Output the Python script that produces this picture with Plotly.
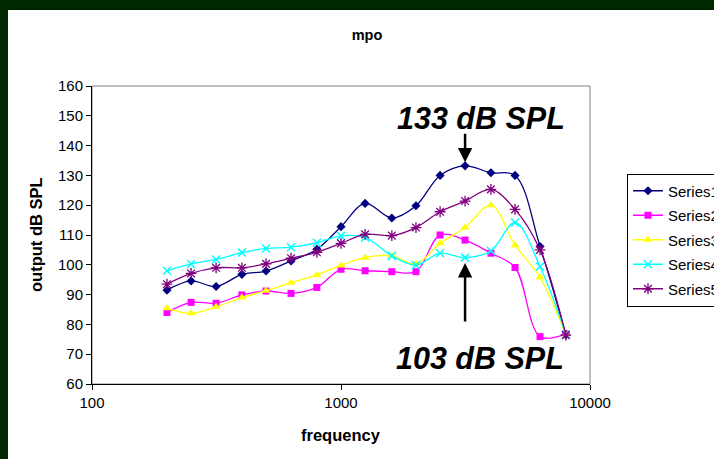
import plotly.graph_objects as go
import math

# ---- data ----
freqs = [200, 250, 315, 400, 500, 630, 800, 1000, 1250, 1600, 2000, 2500, 3150, 4000, 5000, 6300, 8000]
series1 = [91.5, 94.6, 92.7, 96.8, 97.9, 101.3, 105.2, 112.8, 120.6, 115.7, 119.8, 130.0, 133.2, 130.9, 130.0, 106.1, 76.5]
series2 = [84.0, 87.4, 87.1, 89.9, 91.2, 90.4, 92.4, 98.5, 98.0, 97.7, 97.7, 110.0, 108.3, 103.9, 99.1, 75.9, 76.8]
series3 = [85.4, 83.7, 85.9, 89.0, 91.3, 94.0, 96.6, 99.8, 102.4, 103.0, 100.3, 107.2, 112.5, 120.0, 106.6, 95.8, 76.5]
series4 = [98.0, 100.3, 101.8, 104.1, 105.5, 105.9, 107.4, 109.7, 109.2, 103.0, 99.9, 103.9, 102.4, 104.7, 114.2, 99.4, 76.6]
series5 = [93.5, 97.1, 99.0, 99.0, 100.3, 102.2, 104.2, 107.2, 110.2, 109.8, 112.5, 117.8, 121.4, 125.3, 118.6, 105.0, 76.4]
names = ["Series1", "Series2", "Series3", "Series4", "Series5"]
y_ticks = [60, 70, 80, 90, 100, 110, 120, 130, 140, 150, 160]
x_ticks = [100, 1000, 10000]

# ---- geometry (pixels) ----
W, H = 714, 459
L, R, T, B = 92, 590, 86, 384
pw, ph = R - L, B - T

def px(xp):
    return (xp - L) / pw

def py(yp):
    return (B - yp) / ph

FONT = "Liberation Sans, Arial, sans-serif"

styles = [
    dict(color="#000080", symbol="diamond", size=7, lw=0),
    dict(color="#FF00FF", symbol="square", size=7, lw=0),
    dict(color="#FFFF00", symbol="triangle-up", size=8, lw=0),
    dict(color="#00FFFF", symbol="x-thin", size=8, lw=1.5),
    dict(color="#800080", symbol="asterisk", size=9, lw=1.3),
]

fig = go.Figure()
for name, ys, st in zip(names, [series1, series2, series3, series4, series5], styles):
    fig.add_trace(go.Scatter(
        x=freqs, y=ys, name=name, mode="lines+markers", legendgroup=name,
        line=dict(color=st["color"], width=1.3, shape="spline", smoothing=1),
        marker=dict(symbol=st["symbol"], size=st["size"], color=st["color"],
                    line=dict(color=st["color"], width=st["lw"])),
    ))

fig.update_layout(
    width=W, height=H,
    margin=dict(l=L, r=W - R, t=T, b=H - B, autoexpand=False),
    paper_bgcolor="#002800",
    plot_bgcolor="white",
    font=dict(family=FONT, color="black", size=15),
    title=dict(text="<b>mpo</b>", x=367 / W, xref="container", xanchor="center",
               y=1 - 35 / H, yref="container", yanchor="middle",
               font=dict(size=14.5, family=FONT)),
    showlegend=True,
    legend=dict(x=px(627), y=py(173.5), xanchor="left", yanchor="top",
                bordercolor="black", borderwidth=1, bgcolor="white",
                font=dict(size=15, family=FONT), tracegroupgap=2),
    xaxis=dict(type="log", range=[2, 4], tickvals=x_ticks, ticktext=[str(v) for v in x_ticks],
               showgrid=False, zeroline=False, showline=True, linecolor="black", linewidth=1,
               ticks="outside", ticklen=5, tickcolor="black", tickfont=dict(size=15)),
    yaxis=dict(range=[60, 160], tickvals=y_ticks, showgrid=False, zeroline=False,
               showline=True, linecolor="black", linewidth=1,
               ticks="outside", ticklen=5, tickcolor="black", tickfont=dict(size=15)),
)

# white chart area and grey frame of plot area
fig.add_shape(type="rect", xref="paper", yref="paper", x0=px(8), x1=px(W + 20), y0=py(H + 20), y1=py(10),
              fillcolor="white", line=dict(width=0), layer="below")
fig.add_shape(type="rect", xref="paper", yref="paper", x0=0, x1=1, y0=0, y1=1,
              line=dict(color="#808080", width=1), layer="below")

# axis titles
fig.add_annotation(text="<b>output dB SPL</b>", xref="paper", yref="paper", x=px(36), y=0.5,
                   xanchor="center", yanchor="middle",
                   textangle=-90, showarrow=False, font=dict(size=16.5, family=FONT))
fig.add_annotation(text="<b>frequency</b>", xref="paper", yref="paper", x=0.5, y=py(435),
                   xanchor="center", yanchor="middle",
                   showarrow=False, font=dict(size=16.5, family=FONT))

# callouts
peak_f = freqs[series1.index(max(series1))]
fig.add_annotation(text="", x=math.log10(peak_f), y=max(series1) + 1.2, xref="x", yref="y",
                   showarrow=True, ax=0, ay=-30, arrowhead=2, arrowwidth=2.5, arrowsize=1.15,
                   arrowcolor="black")
fig.add_annotation(text="", x=math.log10(peak_f), y=series4[freqs.index(peak_f)] - 1.8, xref="x", yref="y",
                   showarrow=True, ax=0, ay=60, arrowhead=2, arrowwidth=2.5, arrowsize=1.15,
                   arrowcolor="black")
fig.add_annotation(text="<b><i>133 dB SPL</i></b>", xref="paper", yref="paper", x=px(481), y=py(118),
                   xanchor="center", yanchor="middle",
                   showarrow=False, font=dict(size=30.5, family=FONT))
fig.add_annotation(text="<b><i>103 dB SPL</i></b>", xref="paper", yref="paper", x=px(480), y=py(357.5),
                   xanchor="center", yanchor="middle",
                   showarrow=False, font=dict(size=30.5, family=FONT))

fig.write_html("out.html")
